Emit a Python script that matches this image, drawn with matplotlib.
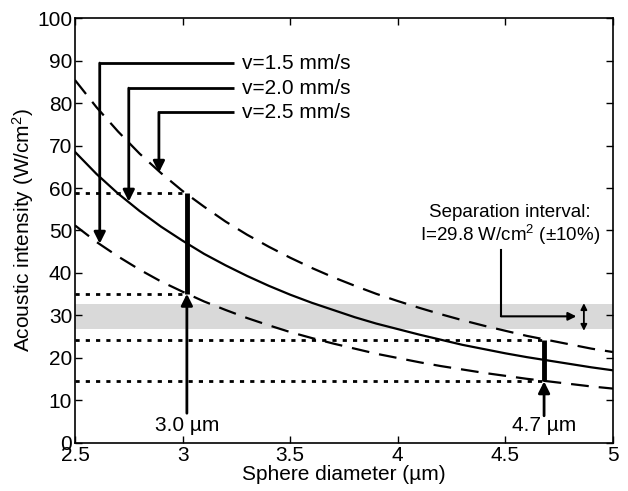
import matplotlib
matplotlib.use("Agg")
import matplotlib.pyplot as plt

plt.rcParams['font.family'] = ['Liberation Sans', 'DejaVu Sans']
plt.rcParams['mathtext.default'] = 'regular'
plt.rcParams['font.size'] = 15

# sphere diameter (um) and acoustic intensity (W/cm^2)
diam = [2.5, 2.6, 2.7, 2.8, 2.9, 3.0, 3.1, 3.2, 3.3, 3.4, 3.5, 3.6, 3.7,
        3.8, 3.9, 4.0, 4.1, 4.2, 4.3, 4.4, 4.5, 4.6, 4.7, 4.8, 4.9, 5.0]
I_v15 = [51.2, 47.3, 43.9, 40.8, 38.0, 35.6, 33.3, 31.3, 29.4, 27.7, 26.1, 24.7, 23.4,
         22.2, 21.0, 20.0, 19.0, 18.1, 17.3, 16.5, 15.8, 15.1, 14.5, 13.9, 13.3, 12.8]
I_v20 = [68.5, 63.3, 58.7, 54.6, 50.9, 47.6, 44.5, 41.8, 39.3, 37.0, 34.9, 33.0, 31.3,
         29.6, 28.1, 26.8, 25.5, 24.3, 23.1, 22.1, 21.1, 20.2, 19.4, 18.6, 17.8, 17.1]
I_v25 = [85.4, 79.0, 73.3, 68.1, 63.5, 59.3, 55.6, 52.1, 49.0, 46.2, 43.6, 41.2, 39.0,
         37.0, 35.1, 33.4, 31.8, 30.3, 28.9, 27.6, 26.4, 25.2, 24.2, 23.2, 22.2, 21.4]

# separation interval 29.8 +/- 10 %
I_sep = 29.8
band_lo = I_sep * 0.9
band_hi = I_sep * 1.1

# the two separated sizes and their intensity windows
d_small = 3.02
win_small = [35.1, 58.8]
d_large = 4.68
win_large = [14.5, 24.3]

fig = plt.figure(figsize=(6.28, 4.91), dpi=100)
ax = fig.add_axes([0.1194, 0.0978, 0.8566, 0.8655])

ax.axhspan(band_lo, band_hi, color='#d9d9d9', lw=0, zorder=0)

ax.plot(diam, I_v20, color='k', lw=1.6)
ax.plot(diam, I_v25, color='k', lw=1.6, dashes=(8, 4.5))
ax.plot(diam, I_v15, color='k', lw=1.6, dashes=(8, 4.5))

# dotted levels
for y in win_small:
    ax.plot([2.5, d_small], [y, y], color='k', lw=2, dashes=(1.5, 2.2))
for y in win_large:
    ax.plot([2.5, d_large], [y, y], color='k', lw=2, dashes=(1.5, 2.2))

# thick bars
ax.plot([d_small, d_small], win_small, color='k', lw=3.5, solid_capstyle='butt')
ax.plot([d_large, d_large], win_large, color='k', lw=3.5, solid_capstyle='butt')

arw = dict(arrowstyle='-|>', color='k', lw=2, mutation_scale=17, shrinkA=0, shrinkB=0)

# size arrows
ax.annotate('', xy=(d_small, win_small[0]), xytext=(d_small, 7), arrowprops=arw)
ax.text(d_small, 4.0, '3.0 µm', ha='center', va='center')
ax.annotate('', xy=(d_large, win_large[0]), xytext=(d_large, 6.4), arrowprops=arw)
ax.text(d_large, 4.0, '4.7 µm', ha='center', va='center')

# velocity labels with bent arrows
labels = ['v=1.5 mm/s', 'v=2.0 mm/s', 'v=2.5 mm/s']
lab_y = [89.4, 83.5, 77.8]
lab_x = [2.615, 2.75, 2.89]
tip_y = [46.9, 56.8, 63.6]
for txt, ly, lx, ty in zip(labels, lab_y, lab_x, tip_y):
    ax.plot([3.24, lx], [ly, ly], color='k', lw=2, solid_capstyle='butt')
    ax.annotate('', xy=(lx, ty), xytext=(lx, ly), arrowprops=arw)
    ax.text(3.275, ly, txt, ha='left', va='center')

# separation interval label
ax.text(4.52, 51.2, 'Separation interval:\nI=29.8 W/cm$^2$ (±10%)', ha='center', va='center',
        fontsize=13.5, linespacing=1.1)
ax.plot([4.48, 4.48], [45.5, I_sep], color='k', lw=1.5)
ax.annotate('', xy=(4.83, I_sep), xytext=(4.48, I_sep),
            arrowprops=dict(arrowstyle='-|>', color='k', lw=1.5, mutation_scale=12,
                            shrinkA=0, shrinkB=0))
ax.annotate('', xy=(4.865, 26.4), xytext=(4.865, 32.9),
            arrowprops=dict(arrowstyle='<|-|>', color='k', lw=1.3, mutation_scale=9,
                            shrinkA=0, shrinkB=0))

ax.set_xlim(2.5, 5)
ax.set_ylim(0, 100)
ax.set_xticks([2.5, 3, 3.5, 4, 4.5, 5])
ax.set_xticklabels(['2.5', '3', '3.5', '4', '4.5', '5'])
ax.set_yticks(range(0, 101, 10))
ax.tick_params(direction='in', top=True, right=True, length=5, width=1, labelsize=15, pad=2)
for s in ax.spines.values():
    s.set_linewidth(1.2)

ax.set_xlabel('Sphere diameter (µm)', fontsize=15, labelpad=0)
ax.set_ylabel('Acoustic intensity (W/cm$^2$)', fontsize=15, labelpad=1)

fig.savefig('out.png', dpi=100)
